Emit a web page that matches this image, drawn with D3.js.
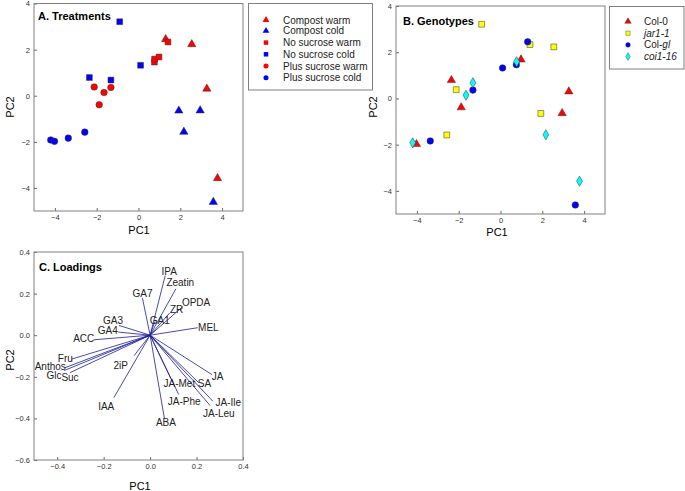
<!DOCTYPE html>
<html><head><meta charset="utf-8">
<script src="https://cdn.jsdelivr.net/npm/d3@7"></script>
<style>body{margin:0;background:#fff}svg{display:block;font-family:"Liberation Sans",Arial,sans-serif}</style>
</head><body><svg id="c" width="685" height="491"></svg>
<script>
// ---- Scores (24 samples) ----
const pc1 = [1.30, 2.55, 3.27, 3.78,  1.93, 2.95, 2.17, 3.58,  1.41, 0.76, 0.77, 0.98,  -0.90, 0.10, -2.35, -1.32,  -2.12, -1.32, -1.65, -1.88,  -4.20, -4.02, -3.36, -2.57];
const pc2 = [2.45, 2.23, 0.30, -3.58,  -0.65, -0.64, -1.57, -4.61,  2.33, 1.46, 1.59, 1.68,  3.21, 1.32, 0.79, 0.68,  0.38, 0.36, 0.14, -0.39,  -1.92, -1.98, -1.84, -1.58];
const treatment = ["Compost warm","Compost warm","Compost warm","Compost warm",
  "Compost cold","Compost cold","Compost cold","Compost cold",
  "No sucrose warm","No sucrose warm","No sucrose warm","No sucrose warm",
  "No sucrose cold","No sucrose cold","No sucrose cold","No sucrose cold",
  "Plus sucrose warm","Plus sucrose warm","Plus sucrose warm","Plus sucrose warm",
  "Plus sucrose cold","Plus sucrose cold","Plus sucrose cold","Plus sucrose cold"];
const genotype = ["Col-gl","jar1-1","Col-0","coi1-16",
  "jar1-1","Col-0","coi1-16","Col-gl",
  "jar1-1","Col-gl","coi1-16","Col-0",
  "jar1-1","Col-gl","Col-0","coi1-16",
  "jar1-1","Col-gl","coi1-16","Col-0",
  "coi1-16","Col-0","Col-gl","jar1-1"];
const treatments = ["Compost warm","Compost cold","No sucrose warm","No sucrose cold","Plus sucrose warm","Plus sucrose cold"];
const genotypes = ["Col-0","jar1-1","Col-gl","coi1-16"];
const scoreTicks = [-4,-2,0,2,4];

// ---- Loadings ----
const varNames = ["IPA","Zeatin","GA7","OPDA","ZR","GA1","MEL","GA3","GA4","ACC","Fru","Anthos","Glc","Suc","2iP","IAA","ABA","JA-Phe","JA-Met","SA","JA","JA-Ile","JA-Leu"];
const load1 = [0.065,0.111,-0.033,0.140,0.085,0.020,0.205,-0.134,-0.137,-0.242,-0.338,-0.368,-0.370,-0.345,-0.069,-0.156,0.062,0.123,0.090,0.210,0.267,0.270,0.258];
const load2 = [0.287,0.223,0.178,0.137,0.108,0.065,0.036,0.047,0.015,-0.022,-0.115,-0.157,-0.170,-0.180,-0.098,-0.300,-0.403,-0.285,-0.210,-0.229,-0.190,-0.317,-0.338];
const labelX = [0.082,0.130,-0.033,0.198,0.114,0.042,0.251,-0.160,-0.182,-0.286,-0.365,-0.430,-0.414,-0.345,-0.127,-0.189,0.068,0.147,0.126,0.234,0.291,0.337,0.296];
const labelY = [0.308,0.252,0.200,0.159,0.124,0.071,0.036,0.072,0.023,-0.017,-0.110,-0.152,-0.192,-0.203,-0.148,-0.344,-0.421,-0.317,-0.232,-0.232,-0.197,-0.325,-0.376];
const loadXTicks = [-0.4,-0.2,0.0,0.2,0.4];
const loadYTicks = [-0.6,-0.4,-0.2,0.0,0.2,0.4];

const svg = d3.select("#c");
const frameCol = "#808080", tickTextCol = "#333";

const treatStyle = {
  "Compost warm":{shape:d3.symbolTriangle, fill:"#ff0000"},
  "Compost cold":{shape:d3.symbolTriangle, fill:"#0000ff"},
  "No sucrose warm":{shape:d3.symbolSquare, fill:"#ff0000"},
  "No sucrose cold":{shape:d3.symbolSquare, fill:"#0000ff"},
  "Plus sucrose warm":{shape:d3.symbolCircle, fill:"#ff0000"},
  "Plus sucrose cold":{shape:d3.symbolCircle, fill:"#0000ff"}
};
const genoStyle = {
  "Col-0":{shape:d3.symbolTriangle, fill:"#ff0000", italic:false},
  "jar1-1":{shape:d3.symbolSquare, fill:"#ffff00", italic:true},
  "Col-gl":{shape:d3.symbolCircle, fill:"#0000ff", italic:"part"},
  "coi1-16":{shape:d3.symbolDiamond, fill:"#00ffff", italic:true}
};
function sizeOf(shape){ if(shape===d3.symbolTriangle) return 30; if(shape===d3.symbolDiamond) return 30; if(shape===d3.symbolSquare) return 34; return 34; }

function panel(box, xd, yd, xt, yt, fmt){
  const x = d3.scaleLinear().domain(xd).range([box.l, box.r]);
  const y = d3.scaleLinear().domain(yd).range([box.b, box.t]);
  const g = svg.append("g");
  const ax = g.append("g").attr("transform",`translate(0,${box.b})`)
    .call(d3.axisBottom(x).tickValues(xt).tickSizeInner(-3).tickSizeOuter(0).tickPadding(4).tickFormat(fmt));
  const ay = g.append("g").attr("transform",`translate(${box.l},0)`)
    .call(d3.axisLeft(y).tickValues(yt).tickSizeInner(-3).tickSizeOuter(0).tickPadding(4).tickFormat(fmt));
  [ax,ay].forEach(a=>{
    a.select(".domain").remove();
    a.selectAll(".tick line").attr("stroke","#444").attr("stroke-width",0.8);
    a.selectAll(".tick text").attr("fill",tickTextCol).attr("font-size","7.5px");
  });
  g.append("rect").attr("x",box.l).attr("y",box.t).attr("width",box.r-box.l).attr("height",box.b-box.t)
    .attr("fill","none").attr("stroke",frameCol).attr("stroke-width",1);
  return {x,y,g};
}

// ---- Panel A ----
const A = panel({l:34,r:243,t:3.5,b:211}, [-5,5], [-5,4], scoreTicks, scoreTicks, d3.format("d"));
const idx = d3.range(pc1.length);
treatments.forEach(t=>{
  const st = treatStyle[t];
  A.g.selectAll(null).data(idx.filter(i=>treatment[i]===t)).enter().append("path")
    .attr("d", d3.symbol().type(st.shape).size(sizeOf(st.shape)))
    .attr("transform", i=>`translate(${A.x(pc1[i])},${A.y(pc2[i])})`)
    .attr("fill", st.fill).attr("stroke","#333").attr("stroke-width",0.5);
});
A.g.append("text").attr("x",38).attr("y",20).attr("font-weight","bold").attr("font-size","11px").text("A. Treatments");
svg.append("text").attr("x",139).attr("y",234).attr("text-anchor","middle").attr("font-size","11px").text("PC1");
svg.append("text").attr("transform","translate(14,107) rotate(-90)").attr("text-anchor","middle").attr("font-size","11px").text("PC2");
// legend A
svg.append("rect").attr("x",248.5).attr("y",3.5).attr("width",124).attr("height",86.5).attr("fill","#fff").attr("stroke",frameCol);
treatments.forEach((t,k)=>{
  const yy = 20 + k*11.7 - (k===0?0:0.8);
  const st = treatStyle[t];
  svg.append("path").attr("d", d3.symbol().type(st.shape).size(20)).attr("transform",`translate(266,${yy})`).attr("fill",st.fill);
  svg.append("text").attr("x",283).attr("y",yy).attr("dy","0.35em").attr("font-size","10px").attr("fill","#222").text(t);
});

// ---- Panel B ----
const B = panel({l:396,r:605,t:6,b:214}, [-5,5], [-5,4], scoreTicks, scoreTicks, d3.format("d"));
genotypes.forEach(gn=>{
  const st = genoStyle[gn];
  B.g.selectAll(null).data(idx.filter(i=>genotype[i]===gn)).enter().append("path")
    .attr("d", d3.symbol().type(st.shape).size(sizeOf(st.shape)))
    .attr("transform", i=>`translate(${B.x(pc1[i])},${B.y(pc2[i])})`)
    .attr("fill", st.fill).attr("stroke","#333").attr("stroke-width",0.5);
});
B.g.append("text").attr("x",403).attr("y",25).attr("font-weight","bold").attr("font-size","11px").text("B. Genotypes");
svg.append("text").attr("x",497).attr("y",236).attr("text-anchor","middle").attr("font-size","11px").text("PC1");
svg.append("text").attr("transform","translate(377,107) rotate(-90)").attr("text-anchor","middle").attr("font-size","11px").text("PC2");
svg.append("rect").attr("x",609.5).attr("y",6.5).attr("width",74.5).attr("height",62.5).attr("fill","#fff").attr("stroke",frameCol);
genotypes.forEach((gn,k)=>{
  const yy = 21.5 + k*11.7;
  const st = genoStyle[gn];
  svg.append("path").attr("d", d3.symbol().type(st.shape).size(18)).attr("transform",`translate(628,${yy})`)
    .attr("fill",st.fill).attr("stroke","#333").attr("stroke-width",0.4);
  const t = svg.append("text").attr("x",644).attr("y",yy).attr("dy","0.35em").attr("font-size","10px").attr("fill","#222");
  if(st.italic==="part"){ const p = gn.split("-"); t.append("tspan").text(p[0]+"-"); t.append("tspan").attr("font-style","italic").text(p[1]); }
  else t.attr("font-style", st.italic?"italic":"normal").text(gn);
});

// ---- Panel C ----
const C = panel({l:34,r:243,t:252,b:460}, [-0.5,0.4], [-0.6,0.4], loadXTicks, loadYTicks, d3.format(".1f"));
const vidx = d3.range(varNames.length);
C.g.selectAll(null).data(vidx).enter().append("line")
  .attr("x1",C.x(0)).attr("y1",C.y(0)).attr("x2",i=>C.x(load1[i])).attr("y2",i=>C.y(load2[i]))
  .attr("stroke","#1c1c9c").attr("stroke-width",0.8);
C.g.selectAll(null).data(vidx).enter().append("text")
  .attr("x",i=>C.x(labelX[i])).attr("y",i=>C.y(labelY[i])).attr("dy","0.35em")
  .attr("text-anchor","middle").attr("font-size","10px").attr("fill","#222").text(i=>varNames[i]);
C.g.append("text").attr("x",39).attr("y",271).attr("font-weight","bold").attr("font-size","11px").text("C. Loadings");
svg.append("text").attr("x",140).attr("y",490).attr("text-anchor","middle").attr("font-size","11px").text("PC1");
svg.append("text").attr("transform","translate(14,360) rotate(-90)").attr("text-anchor","middle").attr("font-size","11px").text("PC2");
</script></body></html>
